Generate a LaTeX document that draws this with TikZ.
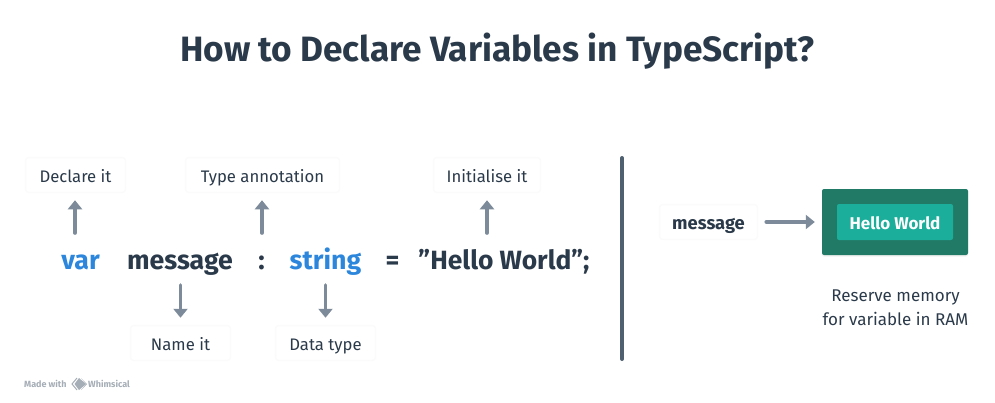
\documentclass[tikz,border=0pt]{standalone}
\usepackage{fontspec}
\setmainfont{Fira Sans}
\usetikzlibrary{arrows.meta,shadows}
\definecolor{ink}{HTML}{2B3A4A}
\definecolor{bluev}{HTML}{2B86DC}
\definecolor{arrowc}{HTML}{7C8A99}
\definecolor{divc}{HTML}{4F6070}
\definecolor{darkg}{HTML}{217A66}
\definecolor{teal}{HTML}{1BAE9B}
\definecolor{markc}{HTML}{A5ADB6}
\tikzset{
  x=1pt,y=-1pt,
  lab/.style={fill=white,draw=black!1.5,line width=1.5pt,rounded corners=3pt,minimum height=35pt,inner sep=0pt,text=ink,text height=14pt,text depth=0pt,font=\fontsize{16.7}{20}\selectfont,anchor=center},
  code/.style={inner sep=0pt,text=ink,font=\fontsize{26.7}{30}\selectfont\bfseries,anchor=base},
  kw/.style={code,text=bluev},
  arr/.style={draw=arrowc,line width=3.6pt,line cap=round,-{Triangle[length=9pt,width=14pt]}},
  note/.style={inner sep=0pt,text=ink,font=\fontsize{17}{24}\selectfont,align=center}
}
\begin{document}
\begin{tikzpicture}
\useasboundingbox (0,0) rectangle (995,402);
\node[inner sep=0pt,text=ink,font=\fontsize{35.2}{40}\selectfont\bfseries] (title) at (497,51) {How to Declare Variables in TypeScript?};
% labels
\node[lab,minimum width=100pt] (declare) at (75.5,175) {Declare it};
\node[lab,minimum width=154pt] (annot) at (262.5,175) {Type annotation};
\node[lab,minimum width=107pt] (init) at (487,175) {Initialise it};
\node[lab,minimum width=100pt] (name) at (180.5,343) {Name it};
\node[lab,minimum width=100pt] (dtype) at (325.5,343) {Data type};
% code line
\node[kw] (var) at (80.5,269) {var};
\node[code] (msg) at (180,269) {message};
\node[code] (colon) at (261.5,269) {:};
\node[kw] (str) at (325.5,269) {string};
\node[code] (eq) at (392.5,269) {=};
\node[code,font=\fontsize{26.4}{30}\selectfont\bfseries] (hello) at (504,269) {"Hello World";};
% arrows
\coordinate (a1) at (75,233);
\coordinate (a2) at (262,233);
\coordinate (a3) at (487,233);
\coordinate (a4) at (180.5,285);
\coordinate (a5) at (325.5,285);
\draw[arr,shorten >=7pt] (a1) -- (a1 |- declare.south);
\draw[arr,shorten >=7pt] (a2) -- (a2 |- annot.south);
\draw[arr,shorten >=7pt] (a3) -- (a3 |- init.south);
\draw[arr,shorten >=7pt] (a4) -- (a4 |- name.north);
\draw[arr,shorten >=7pt] (a5) -- (a5 |- dtype.north);
% divider
\coordinate (d1) at (622,158);
\coordinate (d2) at (622,359);
\draw[divc,line width=4pt,line cap=round] (d1) -- (d2);
% right side
\node[lab,minimum width=98pt,font=\fontsize{18.3}{20}\selectfont\bfseries] (mbox) at (708.5,222) {message};
\node[fill=darkg,rounded corners=2pt,minimum width=146pt,minimum height=66pt,inner sep=0pt,drop shadow={opacity=.12,shadow xshift=0pt,shadow yshift=-1.5pt}] (mem) at (895,222) {};
\node[fill=teal,rounded corners=2pt,minimum width=116pt,minimum height=36pt,inner sep=0pt,text=white,text height=14pt,text depth=0pt,font=\fontsize{17}{20}\selectfont\bfseries] (val) at (895,222) {Hello World};
\draw[arr,shorten >=7pt,shorten <=8pt] (mbox.east) -- (mem.west);
\node[note] (cap) at (895.5,308) {Reserve memory\\for variable in RAM};
% watermark
\node[inner sep=0pt,anchor=west,text=markc,font=\fontsize{9}{11}\selectfont\bfseries] (made) at (24,384) {Made with};
\draw[markc,line width=1pt] (77,378) -- (72,384) -- (77,390);
\fill[markc] (79,378) -- (86,384) -- (79,390) -- (74.5,384) -- cycle;
\fill[markc] (81,378) -- (87,384) -- (81,390) -- (86,384) -- cycle;
\node[inner sep=0pt,anchor=west,text=markc,font=\fontsize{9}{11}\selectfont\bfseries] (whim) at (88,384) {Whimsical};
\end{tikzpicture}
\end{document}
